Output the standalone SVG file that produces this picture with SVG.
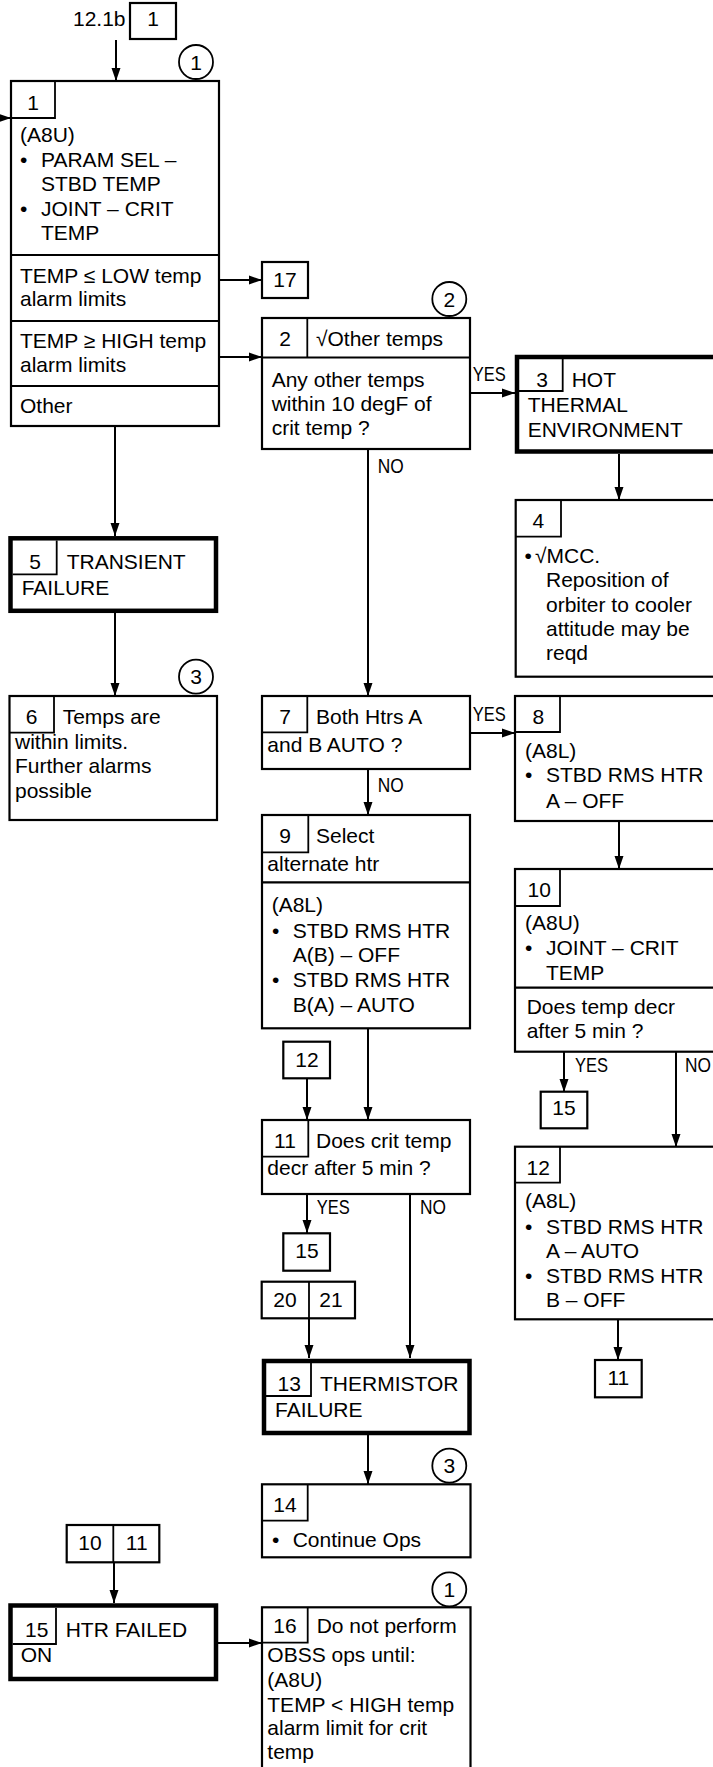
<svg xmlns="http://www.w3.org/2000/svg" width="713" height="1767" viewBox="0 0 713 1767">
<style>
.bx{fill:#fff;stroke:#000;stroke-width:2.2}
.tk{fill:#fff;stroke:#000;stroke-width:4.5}
.sb{fill:none;stroke:#000;stroke-width:1.8}
.dv{fill:none;stroke:#000;stroke-width:2.2}
.cr{fill:#fff;stroke:#000;stroke-width:1.8}
.ln{fill:none;stroke:#000;stroke-width:2;marker-end:url(#ah)}
text{font-family:"Liberation Sans",Arial,sans-serif;font-size:21px;fill:#000}
.c{text-anchor:middle}
.lb{font-family:"Liberation Sans Narrow","Liberation Sans",Arial,sans-serif;font-size:20px}
</style>
<defs>
<marker id="ah" markerUnits="userSpaceOnUse" markerWidth="14" markerHeight="10" refX="13" refY="5" orient="auto" viewBox="0 0 14 10">
<path d="M0,0.5 L13,5 L0,9.5 z" fill="#000"/>
</marker>
</defs>
<rect width="713" height="1767" fill="#fff"/>

<g id="connectors">
<line class="ln" x1="116" y1="40" x2="116" y2="81"/>
<line class="ln" x1="-5" y1="118" x2="11" y2="118"/>
<line class="ln" x1="219" y1="280" x2="262" y2="280"/>
<line class="ln" x1="219" y1="357" x2="262" y2="357"/>
<line class="ln" x1="115" y1="426" x2="115" y2="536"/>
<line class="ln" x1="115" y1="613" x2="115" y2="696"/>
<line class="ln" x1="470" y1="393" x2="515" y2="393"/>
<line class="ln" x1="368" y1="449" x2="368" y2="696"/>
<line class="ln" x1="619" y1="454" x2="619" y2="500"/>
<line class="ln" x1="470" y1="733" x2="515" y2="733"/>
<line class="ln" x1="368" y1="769" x2="368" y2="815"/>
<line class="ln" x1="619" y1="821" x2="619" y2="869"/>
<line class="ln" x1="368" y1="1028" x2="368" y2="1120"/>
<line class="ln" x1="307" y1="1078" x2="307" y2="1120"/>
<line class="ln" x1="307" y1="1194" x2="307" y2="1233"/>
<line class="ln" x1="410" y1="1194" x2="410" y2="1358"/>
<line class="ln" x1="309" y1="1318" x2="309" y2="1358"/>
<line class="ln" x1="368" y1="1435" x2="368" y2="1484"/>
<line class="ln" x1="564" y1="1052" x2="564" y2="1092"/>
<line class="ln" x1="676" y1="1052" x2="676" y2="1147"/>
<line class="ln" x1="618" y1="1319" x2="618" y2="1360"/>
<line class="ln" x1="114" y1="1562" x2="114" y2="1603"/>
<line class="ln" x1="218" y1="1643" x2="262" y2="1643"/>
<text class="lb" x="472.7" y="380.7" textLength="33" lengthAdjust="spacingAndGlyphs">YES</text>
<text class="lb" x="377.7" y="472.7" textLength="26" lengthAdjust="spacingAndGlyphs">NO</text>
<text class="lb" x="472.7" y="720.7" textLength="33" lengthAdjust="spacingAndGlyphs">YES</text>
<text class="lb" x="377.7" y="791.7" textLength="26" lengthAdjust="spacingAndGlyphs">NO</text>
<text class="lb" x="575" y="1071.7" textLength="33" lengthAdjust="spacingAndGlyphs">YES</text>
<text class="lb" x="685" y="1071.7" textLength="26" lengthAdjust="spacingAndGlyphs">NO</text>
<text class="lb" x="316.7" y="1214" textLength="33" lengthAdjust="spacingAndGlyphs">YES</text>
<text class="lb" x="420" y="1214" textLength="26" lengthAdjust="spacingAndGlyphs">NO</text>
</g>

<g id="ref-top">
<text x="73" y="26">12.1b</text>
<rect class="bx" x="130" y="3" width="46" height="36"/>
<text class="c" x="153" y="26">1</text>
</g>

<g id="circles">
<circle class="cr" cx="196" cy="62" r="17"/><text class="c" x="196" y="69.5">1</text>
<circle class="cr" cx="449.3" cy="299" r="17"/><text class="c" x="449.3" y="306.5">2</text>
<circle class="cr" cx="196" cy="676.7" r="17"/><text class="c" x="196" y="684.2">3</text>
<circle class="cr" cx="449.3" cy="1465.7" r="17"/><text class="c" x="449.3" y="1473.2">3</text>
<circle class="cr" cx="449.3" cy="1589.3" r="17"/><text class="c" x="449.3" y="1596.8">1</text>
</g>

<g id="node1">
<rect class="bx" x="11" y="81" width="208" height="345"/>
<path class="sb" d="M11,118 H55 V81"/>
<line class="dv" x1="11" y1="255" x2="219" y2="255"/>
<line class="dv" x1="11" y1="321" x2="219" y2="321"/>
<line class="dv" x1="11" y1="386" x2="219" y2="386"/>
<text class="c" x="33" y="110">1</text>
<text x="20" y="141.5">(A8U)</text>
<text x="20" y="167">•</text><text x="41" y="167">PARAM SEL –</text>
<text x="41" y="191">STBD TEMP</text>
<text x="20" y="216">•</text><text x="41" y="216">JOINT – CRIT</text>
<text x="41" y="240">TEMP</text>
<text x="20" y="283">TEMP ≤ LOW temp</text>
<text x="20" y="306">alarm limits</text>
<text x="20" y="348">TEMP ≥ HIGH temp</text>
<text x="20" y="372">alarm limits</text>
<text x="20" y="413">Other</text>
</g>

<g id="ref17">
<rect class="bx" x="262" y="262" width="46" height="36"/>
<text class="c" x="285" y="286.7">17</text>
</g>

<g id="node2">
<rect class="bx" x="262" y="318" width="208" height="131"/>
<line class="dv" x1="262" y1="357.5" x2="470" y2="357.5"/>
<line class="sb" x1="307.3" y1="318" x2="307.3" y2="357.5"/>
<text class="c" x="285" y="346">2</text>
<text x="316" y="346">√Other temps</text>
<text x="271.7" y="387">Any other temps</text>
<text x="271.7" y="411">within 10 degF of</text>
<text x="271.7" y="435">crit temp ?</text>
</g>

<g id="node3">
<rect class="tk" x="517" y="357" width="230" height="94.5"/>
<path class="sb" d="M519,391 H562.7 V359"/>
<text class="c" x="542" y="387">3</text>
<text x="571.7" y="387">HOT</text>
<text x="527.7" y="412">THERMAL</text>
<text x="527.7" y="437">ENVIRONMENT</text>
</g>

<g id="node4">
<rect class="bx" x="515.7" y="500" width="230" height="176.7"/>
<path class="sb" d="M515.7,536.7 H561 V500"/>
<text class="c" x="538.3" y="528">4</text>
<text x="524.5" y="563">•</text><text x="535" y="563">√MCC.</text>
<text x="546" y="587">Reposition of</text>
<text x="546" y="611.5">orbiter to cooler</text>
<text x="546" y="636">attitude may be</text>
<text x="546" y="660">reqd</text>
</g>

<g id="node5">
<rect class="tk" x="10.5" y="538.3" width="205.5" height="72.5"/>
<path class="sb" d="M12.7,574.3 H56.7 V540.5"/>
<text class="c" x="35" y="569">5</text>
<text x="66.7" y="569">TRANSIENT</text>
<text x="21.7" y="595">FAILURE</text>
</g>

<g id="node6">
<rect class="bx" x="9.5" y="696" width="207.5" height="124"/>
<path class="sb" d="M9.5,732.7 H54 V696"/>
<text class="c" x="31.7" y="724">6</text>
<text x="62.7" y="724">Temps are</text>
<text x="15" y="748.5">within limits.</text>
<text x="15" y="773">Further alarms</text>
<text x="15" y="797.5">possible</text>
</g>

<g id="node7">
<rect class="bx" x="262" y="696" width="208" height="73"/>
<path class="sb" d="M262,732.3 H307.3 V696"/>
<text class="c" x="285" y="724">7</text>
<text x="316" y="724">Both Htrs A</text>
<text x="267.3" y="751.7">and B AUTO ?</text>
</g>

<g id="node8">
<rect class="bx" x="515" y="696" width="230" height="125"/>
<path class="sb" d="M515,732 H560 V696"/>
<text class="c" x="538.3" y="724">8</text>
<text x="525" y="758.3">(A8L)</text>
<text x="525" y="782.3">•</text><text x="546" y="782.3">STBD RMS HTR</text>
<text x="546" y="807.7">A – OFF</text>
</g>

<g id="node9">
<rect class="bx" x="262" y="815" width="208" height="213.3"/>
<path class="sb" d="M262,852.3 H308.3 V815"/>
<line class="dv" x1="262" y1="882.3" x2="470" y2="882.3"/>
<text class="c" x="285" y="843.3">9</text>
<text x="316" y="843.3">Select</text>
<text x="267.3" y="870.7">alternate htr</text>
<text x="271.7" y="912.3">(A8L)</text>
<text x="272" y="937.7">•</text><text x="292.7" y="937.7">STBD RMS HTR</text>
<text x="292.7" y="961.7">A(B) – OFF</text>
<text x="272" y="987.3">•</text><text x="292.7" y="987.3">STBD RMS HTR</text>
<text x="292.7" y="1011.7">B(A) – AUTO</text>
</g>

<g id="node10">
<rect class="bx" x="515" y="869" width="230" height="182.7"/>
<path class="sb" d="M515,906 H560 V869"/>
<line class="dv" x1="515" y1="987.7" x2="745" y2="987.7"/>
<text class="c" x="539.3" y="897.3">10</text>
<text x="525" y="930">(A8U)</text>
<text x="525" y="955">•</text><text x="546" y="955">JOINT – CRIT</text>
<text x="546" y="980">TEMP</text>
<text x="526.7" y="1014">Does temp decr</text>
<text x="526.7" y="1038.3">after 5 min ?</text>
</g>

<g id="ref12">
<rect class="bx" x="283.3" y="1041.7" width="46.7" height="36.6"/>
<text class="c" x="307" y="1066.7">12</text>
</g>

<g id="node11">
<rect class="bx" x="262" y="1120" width="208" height="74"/>
<path class="sb" d="M262,1156.7 H308.3 V1120"/>
<text class="c" x="285" y="1148.3">11</text>
<text x="316" y="1148.3">Does crit temp</text>
<text x="267.3" y="1175">decr after 5 min ?</text>
</g>

<g id="ref15a">
<rect class="bx" x="283.3" y="1233.3" width="46.7" height="37.4"/>
<text class="c" x="307" y="1258.3">15</text>
</g>

<g id="ref2021">
<rect class="bx" x="261.7" y="1281.7" width="93.3" height="36.6"/>
<line class="sb" x1="309" y1="1281.7" x2="309" y2="1318.3"/>
<text class="c" x="285" y="1306.7">20</text>
<text class="c" x="331" y="1306.7">21</text>
</g>

<g id="node13">
<rect class="tk" x="264" y="1361" width="205.5" height="72"/>
<path class="sb" d="M266,1396 H311 V1363"/>
<text class="c" x="289.3" y="1390.7">13</text>
<text x="320" y="1390.7">THERMISTOR</text>
<text x="275" y="1416.7">FAILURE</text>
</g>

<g id="ref15b">
<rect class="bx" x="540.7" y="1091.7" width="46.6" height="36.6"/>
<text class="c" x="564" y="1115">15</text>
</g>

<g id="node12">
<rect class="bx" x="515" y="1146.7" width="230" height="172.6"/>
<path class="sb" d="M515,1182.7 H560 V1146.7"/>
<text class="c" x="538.3" y="1175">12</text>
<text x="525" y="1208.3">(A8L)</text>
<text x="525" y="1234">•</text><text x="546" y="1234">STBD RMS HTR</text>
<text x="546" y="1258.3">A – AUTO</text>
<text x="525" y="1283.3">•</text><text x="546" y="1283.3">STBD RMS HTR</text>
<text x="546" y="1307.3">B – OFF</text>
</g>

<g id="ref11">
<rect class="bx" x="595" y="1360" width="46.7" height="37.3"/>
<text class="c" x="618.3" y="1385">11</text>
</g>

<g id="node14">
<rect class="bx" x="262" y="1484.3" width="208.5" height="73"/>
<path class="sb" d="M262,1520.7 H307.7 V1484.3"/>
<text class="c" x="285" y="1511.7">14</text>
<text x="272" y="1546.7">•</text><text x="292.7" y="1546.7">Continue Ops</text>
</g>

<g id="ref1011">
<rect class="bx" x="66.7" y="1525" width="92.6" height="37.3"/>
<line class="sb" x1="113.3" y1="1525" x2="113.3" y2="1562.3"/>
<text class="c" x="90" y="1550">10</text>
<text class="c" x="136.7" y="1550">11</text>
</g>

<g id="node15">
<rect class="tk" x="10.5" y="1605.5" width="205.5" height="73.5"/>
<path class="sb" d="M12.7,1644 H56 V1608"/>
<text class="c" x="36.7" y="1636.7">15</text>
<text x="65.7" y="1636.7">HTR FAILED</text>
<text x="20.7" y="1661.7">ON</text>
</g>

<g id="node16">
<rect class="bx" x="262" y="1607.3" width="208.5" height="200"/>
<path class="sb" d="M262,1642.7 H307.7 V1607.3"/>
<text class="c" x="285" y="1633.3">16</text>
<text x="316.7" y="1633.3">Do not perform</text>
<text x="267.3" y="1661.7">OBSS ops until:</text>
<text x="267.3" y="1686.7">(A8U)</text>
<text x="267.3" y="1711.7">TEMP &lt; HIGH temp</text>
<text x="267.3" y="1735">alarm limit for crit</text>
<text x="267.3" y="1759.3">temp</text>
</g>
</svg>
